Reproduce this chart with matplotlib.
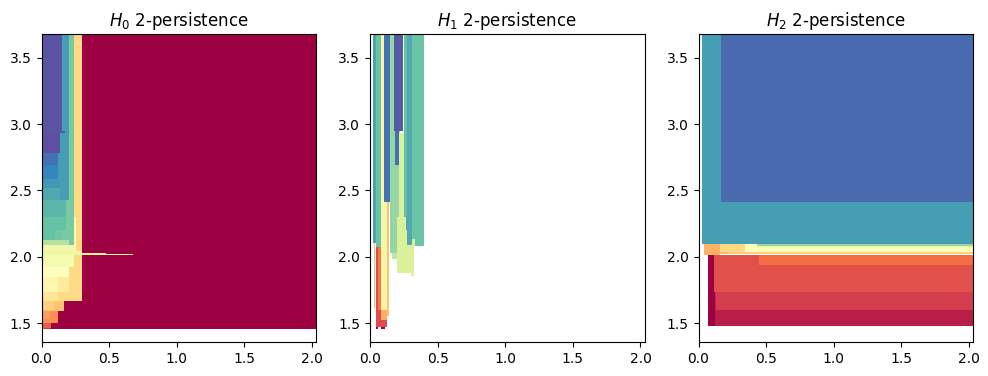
import matplotlib
matplotlib.use("Agg")
import matplotlib.pyplot as plt

x_max = 2.03
y_min, y_max = 1.357, 3.68

titles = ["$H_0$ 2-persistence", "$H_1$ 2-persistence", "$H_2$ 2-persistence"]

# regions of each persistence image, drawn back to front:
# (birth from, birth to, scale from, scale to, value in 0..1)
h0_regions = [
    (0.0, 2.03, 1.452, 3.68, 0.0),
    (0.0, 0.302, 1.666, 3.68, 0.39),
    (0.0, 0.17, 1.59, 1.666, 0.34),
    (0.0, 0.125, 1.497, 1.59, 0.25),
    (0.0, 0.07, 1.465, 1.497, 0.17),
    (0.0, 0.06, 1.452, 1.465, 0.1),
    (0.0, 0.09, 1.60, 1.666, 0.37),
    (0.0, 0.06, 1.53, 1.59, 0.28),
    (0.0, 0.12, 1.666, 1.736, 0.42),
    (0.0, 0.206, 1.736, 1.925, 0.43),
    (0.0, 0.12, 1.736, 1.85, 0.47),
    (0.0, 0.206, 1.85, 1.925, 0.5),
    (0.0, 0.243, 1.925, 2.03, 0.54),
    (0.0, 0.258, 2.03, 2.09, 0.56),
    (0.243, 0.258, 2.09, 2.30, 0.54),
    (0.0, 0.243, 2.09, 3.68, 0.77),
    (0.0, 0.2, 2.09, 2.126, 0.68),
    (0.0, 0.15, 2.126, 2.20, 0.78),
    (0.0, 0.18, 2.20, 2.30, 0.8),
    (0.0, 0.10, 2.126, 2.20, 0.8),
    (0.0, 0.18, 2.30, 2.43, 0.82),
    (0.0, 0.206, 2.43, 3.68, 0.86),
    (0.0, 0.14, 2.43, 2.52, 0.84),
    (0.0, 0.14, 2.52, 2.59, 0.87),
    (0.0, 0.12, 2.59, 2.69, 0.9),
    (0.0, 0.12, 2.69, 2.78, 0.94),
    (0.0, 0.14, 2.78, 2.93, 1.0),
    (0.0, 0.177, 2.93, 2.95, 0.99),
    (0.0, 0.155, 2.95, 3.68, 0.99),
    (0.0, 0.68, 2.012, 2.024, 0.6),
    (0.0, 0.48, 2.012, 2.032, 0.59),
    (0.0, 0.30, 2.012, 2.045, 0.57),
]

h1_regions = [
    (0.032, 0.039, 1.616, 2.10, 0.33),
    (0.047, 0.079, 1.473, 2.07, 0.13),
    (0.062, 0.079, 1.60, 2.07, 0.22),
    (0.079, 0.142, 1.556, 2.416, 0.34),
    (0.079, 0.128, 1.522, 1.60, 0.3),
    (0.085, 0.128, 1.60, 2.416, 0.46),
    (0.092, 0.123, 1.704, 2.416, 0.56),
    (0.075, 0.128, 1.473, 1.522, 0.13),
    (0.047, 0.062, 1.455, 1.473, 0.0),
    (0.085, 0.113, 1.455, 1.473, 0.0),
    (0.16, 0.21, 1.983, 2.05, 0.66),
    (0.15, 0.224, 2.031, 3.68, 0.73),
    (0.203, 0.328, 1.88, 2.3, 0.62),
    (0.30, 0.328, 1.855, 1.9, 0.62),
    (0.025, 0.047, 2.10, 3.68, 0.85),
    (0.047, 0.079, 2.07, 3.68, 0.79),
    (0.079, 0.106, 2.42, 3.68, 0.46),
    (0.106, 0.15, 2.416, 3.68, 0.94),
    (0.253, 0.275, 2.303, 3.68, 0.8),
    (0.275, 0.312, 2.089, 3.68, 0.84),
    (0.268, 0.275, 2.20, 2.31, 0.84),
    (0.312, 0.40, 2.081, 3.68, 0.79),
    (0.312, 0.334, 2.081, 2.135, 0.62),
    (0.216, 0.253, 2.30, 2.93, 0.62),
    (0.187, 0.216, 2.692, 2.95, 0.94),
    (0.18, 0.246, 2.949, 3.68, 0.98),
    (0.246, 0.253, 2.93, 3.68, 0.5),
]

h2_regions = [
    (0.027, 2.03, 2.096, 3.68, 0.86),
    (0.167, 2.03, 2.413, 3.68, 0.95),
    (0.042, 0.16, 2.013, 2.096, 0.31),
    (0.16, 0.22, 2.017, 2.033, 0.33),
    (0.16, 0.344, 2.033, 2.096, 0.39),
    (0.22, 2.03, 2.017, 2.033, 0.37),
    (0.344, 0.43, 2.033, 2.096, 0.5),
    (0.43, 2.03, 2.036, 2.07, 0.52),
    (0.43, 2.03, 2.07, 2.082, 0.6),
    (0.43, 2.03, 2.082, 2.096, 0.73),
    (0.071, 0.123, 1.478, 2.013, 0.0),
    (0.116, 2.03, 1.737, 2.013, 0.14),
    (0.447, 2.03, 1.938, 2.013, 0.2),
    (0.123, 0.13, 1.598, 1.737, 0.06),
    (0.13, 2.03, 1.598, 1.737, 0.1),
    (0.123, 2.03, 1.478, 1.598, 0.05),
]

all_regions = [h0_regions, h1_regions, h2_regions]
axes_left = [41.5, 370, 698.5]

cmap = plt.get_cmap("Spectral")
fig = plt.figure(figsize=(9.88, 3.76), dpi=100)

for i in range(3):
    ax = fig.add_axes([axes_left[i] / 988, 1 - 342 / 376, 274.5 / 988, 308 / 376])
    for x0, x1, y0, y1, v in all_regions[i]:
        ax.bar(x0, y1 - y0, width=x1 - x0, bottom=y0, align="edge",
               color=cmap(v), linewidth=0, antialiased=False)
    ax.set_xlim(0, x_max)
    ax.set_ylim(y_min, y_max)
    ax.set_xticks([0.0, 0.5, 1.0, 1.5, 2.0])
    ax.set_yticks([1.5, 2.0, 2.5, 3.0, 3.5])
    ax.set_title(titles[i])

fig.savefig("out.png", dpi=100)
